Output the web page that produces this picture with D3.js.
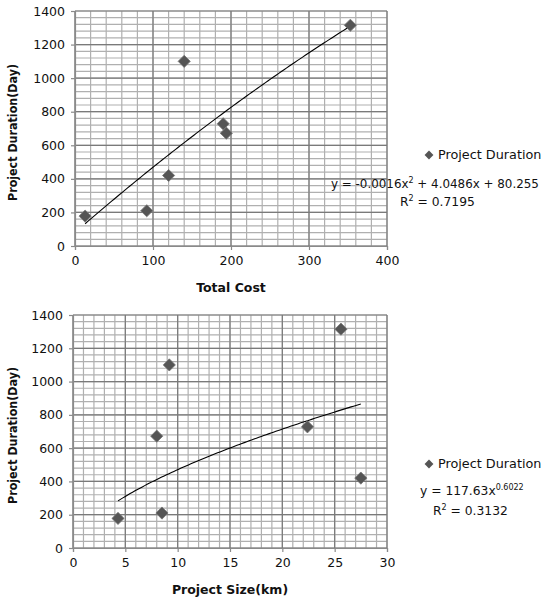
<!DOCTYPE html>
<html>
<head>
<meta charset="utf-8">
<script src="https://cdn.jsdelivr.net/npm/d3@7"></script>
<style>
  body { margin: 0; background: #fff; }
  svg { display: block; font-family: "DejaVu Sans", Verdana, sans-serif; }
</style>
</head>
<body>
<svg id="chart" width="545" height="601"></svg>
<script>
'use strict';

// Data (same projects in both charts)
const duration = [178, 210, 420, 1100, 728, 672, 1315];   // Project Duration (Day)
const totalCost = [13, 92, 120, 140, 190, 194, 353];
const projectSize = [4.3, 8.5, 27.5, 9.2, 22.4, 8.0, 25.6]; // km

// trendline coefficients printed on the chart
const polyCoef = [-0.0016, 4.0486, 80.255];
const powCoef = [117.63, 0.6022];

const costTicks = [0, 100, 200, 300, 400];
const sizeTicks = [0, 5, 10, 15, 20, 25, 30];
const durTicks = [0, 200, 400, 600, 800, 1000, 1200, 1400];

const svg = d3.select('#chart');

function drawChart(opt) {
    let g = svg.append('g');
    let x = d3.scaleLinear().domain(opt.xDomain).range([opt.left, opt.right]);
    let y = d3.scaleLinear().domain([0, 1400]).range([opt.bottom, opt.top]);

    // minor grid
    let xMinor = d3.range(opt.xDomain[0], opt.xDomain[1] + 1e-9, opt.xMinorStep);
    let yMinor = d3.range(0, 1400 + 1e-9, 40);
    g.selectAll('.vmin').data(xMinor).enter().append('line')
        .attr('x1', d => x(d)).attr('x2', d => x(d))
        .attr('y1', opt.top).attr('y2', opt.bottom)
        .attr('stroke', '#b0b0b0').attr('stroke-width', 1.2);
    g.selectAll('.hmin').data(yMinor).enter().append('line')
        .attr('x1', opt.left).attr('x2', opt.right)
        .attr('y1', d => y(d)).attr('y2', d => y(d))
        .attr('stroke', '#b0b0b0').attr('stroke-width', 1.2);

    // major grid
    g.selectAll('.vmaj').data(opt.xTicks).enter().append('line')
        .attr('x1', d => x(d)).attr('x2', d => x(d))
        .attr('y1', opt.top).attr('y2', opt.bottom)
        .attr('stroke', '#7a7a7a').attr('stroke-width', 1.2);
    g.selectAll('.hmaj').data(durTicks).enter().append('line')
        .attr('x1', opt.left).attr('x2', opt.right)
        .attr('y1', d => y(d)).attr('y2', d => y(d))
        .attr('stroke', '#7a7a7a').attr('stroke-width', 1.2);

    // axes
    let xAxis = g.append('g')
        .attr('transform', `translate(0,${opt.bottom})`)
        .call(d3.axisBottom(x).tickValues(opt.xTicks).tickFormat(d3.format('d'))
            .tickSize(4).tickPadding(6));
    let yAxis = g.append('g')
        .attr('transform', `translate(${opt.left},0)`)
        .call(d3.axisLeft(y).tickValues(durTicks).tickFormat(d3.format('d'))
            .tickSize(4).tickPadding(6));
    [xAxis, yAxis].forEach(a => {
        a.selectAll('path, line').attr('stroke', '#8a8a8a').attr('stroke-width', 1.2);
        a.selectAll('text').attr('font-size', 12.5).attr('fill', '#111')
            .attr('font-family', '"DejaVu Sans", Verdana, sans-serif');
    });

    // trendline
    let xs = d3.extent(opt.xs);
    let tl = d3.range(0, 101).map(i => xs[0] + (xs[1] - xs[0]) * i / 100);
    g.append('path')
        .datum(tl)
        .attr('fill', 'none')
        .attr('stroke', '#000')
        .attr('stroke-width', 1.1)
        .attr('d', d3.line().x(d => x(d)).y(d => y(opt.fit(d))));

    // points
    g.selectAll('.pt').data(opt.xs).enter().append('path')
        .attr('d', d3.symbol(d3.symbolDiamond2, 95)())
        .attr('transform', (d, i) => `translate(${x(d)},${y(duration[i])})`)
        .attr('fill', '#555')
        .attr('stroke', '#777')
        .attr('stroke-width', 0.8);

    // axis titles
    g.append('text')
        .attr('x', (opt.left + opt.right) / 2).attr('y', opt.bottom + 46)
        .attr('text-anchor', 'middle')
        .attr('font-size', 12.5).attr('font-weight', 'bold').attr('fill', '#111')
        .text(opt.xLabel);
    g.append('text')
        .attr('transform', `translate(17,${(opt.top + opt.bottom) / 2 + 4}) rotate(-90)`)
        .attr('text-anchor', 'middle')
        .attr('font-size', 11.5).attr('font-weight', 'bold').attr('fill', '#111')
        .attr('textLength', 137).attr('lengthAdjust', 'spacingAndGlyphs')
        .text('Project Duration(Day)');

    // legend
    let ly = opt.legendY;
    g.append('path')
        .attr('d', d3.symbol(d3.symbolDiamond2, 50)())
        .attr('transform', `translate(429,${ly - 4})`)
        .attr('fill', '#555');
    g.append('text')
        .attr('x', 438).attr('y', ly)
        .attr('font-size', 12.8).attr('fill', '#111')
        .text('Project Duration');

    opt.drawEquation(g, ly);
}

function eqText(g, xPos, yPos, anchor) {
    return g.append('text')
        .attr('x', xPos).attr('y', yPos)
        .attr('text-anchor', anchor)
        .attr('font-size', 12.3).attr('fill', '#111');
}

drawChart({
    left: 75, right: 387, top: 11, bottom: 246,
    xDomain: [0, 400], xTicks: costTicks, xMinorStep: 20,
    xs: totalCost,
    fit: v => polyCoef[0] * v * v + polyCoef[1] * v + polyCoef[2],
    xLabel: 'Total Cost',
    legendY: 159,
    drawEquation: function (g, ly) {
        let t = eqText(g, 331, ly + 29, 'start').attr('font-size', 11.9);
        t.append('tspan').text('y = -0.0016x');
        t.append('tspan').attr('font-size', 8).attr('dy', -5).text('2');
        t.append('tspan').attr('dy', 5).text(' + 4.0486x + 80.255');
        let r = eqText(g, 400, ly + 47, 'start');
        r.append('tspan').text('R');
        r.append('tspan').attr('font-size', 8).attr('dy', -5).text('2');
        r.append('tspan').attr('dy', 5).text(' = 0.7195');
    }
});

drawChart({
    left: 73, right: 387, top: 315, bottom: 548,
    xDomain: [0, 30], xTicks: sizeTicks, xMinorStep: 1,
    xs: projectSize,
    fit: v => powCoef[0] * Math.pow(v, powCoef[1]),
    xLabel: 'Project Size(km)',
    legendY: 468,
    drawEquation: function (g, ly) {
        let t = eqText(g, 420, ly + 27, 'start');
        t.append('tspan').text('y = 117.63x');
        t.append('tspan').attr('font-size', 8).attr('dy', -5).text('0.6022');
        let r = eqText(g, 433, ly + 47, 'start');
        r.append('tspan').text('R');
        r.append('tspan').attr('font-size', 8).attr('dy', -5).text('2');
        r.append('tspan').attr('dy', 5).text(' = 0.3132');
    }
});
</script>
</body>
</html>
